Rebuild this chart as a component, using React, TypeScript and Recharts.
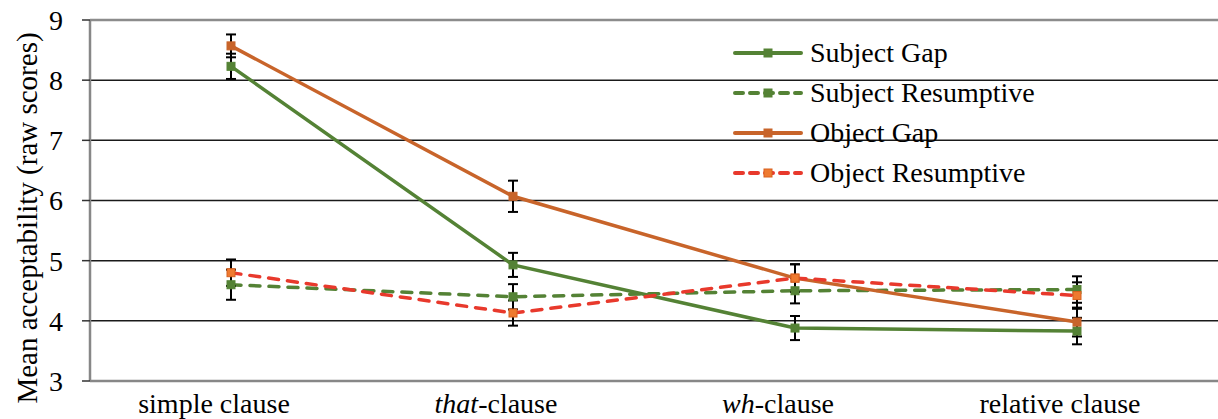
import React from 'react';
import { LineChart, Line, XAxis, YAxis, CartesianGrid, ErrorBar, Legend, ReferenceLine } from 'recharts';

const categories = ['simple clause', 'that-clause', 'wh-clause', 'relative clause'];
const subjectGap = [8.23, 4.93, 3.88, 3.83];
const subjectResumptive = [4.6, 4.4, 4.5, 4.52];
const objectGap = [8.57, 6.07, 4.71, 3.98];
const objectResumptive = [4.8, 4.13, 4.71, 4.42];
const subjectGapErr = [0.21, 0.2, 0.2, 0.22];
const subjectResumptiveErr = [0.25, 0.21, 0.21, 0.22];
const objectGapErr = [0.19, 0.26, 0.23, 0.24];
const objectResumptiveErr = [0.22, 0.21, 0.23, 0.22];
const yTicks = [3, 4, 5, 6, 7, 8, 9];
const yTitle = 'Mean acceptability (raw scores)';

const GREEN = '#548235';
const ORANGE = '#C8642A';
const RED = '#E8392C';
const FONT = "'Liberation Serif', 'DejaVu Serif', 'Times New Roman', Times, serif";

const data = categories.map((c, i) => ({
  category: c,
  sg: subjectGap[i],
  sr: subjectResumptive[i],
  og: objectGap[i],
  or: objectResumptive[i],
  sgErr: subjectGapErr[i],
  srErr: subjectResumptiveErr[i],
  ogErr: objectGapErr[i],
  orErr: objectResumptiveErr[i],
}));

const series = [
  { key: 'sg', err: 'sgErr', name: 'Subject Gap', color: GREEN, dash: undefined as string | undefined, fill: GREEN, stroke: GREEN },
  { key: 'sr', err: 'srErr', name: 'Subject Resumptive', color: GREEN, dash: '10 9', fill: GREEN, stroke: GREEN },
  { key: 'og', err: 'ogErr', name: 'Object Gap', color: ORANGE, dash: undefined as string | undefined, fill: ORANGE, stroke: ORANGE },
  { key: 'or', err: 'orErr', name: 'Object Resumptive', color: RED, dash: '10 9', fill: '#EE7A30', stroke: '#D8601E' },
];

const makeDot = (fill: string, stroke: string) => (props: any) => {
  const { cx, cy, index } = props;
  if (cx == null || cy == null) return <g key={index} />;
  return <rect key={index} x={cx - 4} y={cy - 4} width={8} height={8} fill={fill} stroke={stroke} strokeWidth={1} />;
};

const XTick = (props: any) => {
  const { x, y, payload } = props;
  const label: string = payload.value;
  const dash = label.indexOf('-');
  return (
    <text x={x - 17} y={y} dy="0.71em" textAnchor="middle" fontFamily={FONT} fontSize={28} fill="#000">
      {dash >= 0 ? (
        <>
          <tspan fontStyle="italic">{label.slice(0, dash)}</tspan>
          <tspan>{label.slice(dash)}</tspan>
        </>
      ) : (
        label
      )}
    </text>
  );
};

const YTick = (props: any) => {
  const { x, y, payload } = props;
  return (
    <text x={x} y={y} dy="0.355em" textAnchor="end" fontFamily={FONT} fontSize={28} fill="#000">
      {payload.value}
    </text>
  );
};

const YTitle = () => (
  <text
    x={27}
    y={218}
    transform="rotate(-90 27 218)"
    textAnchor="middle"
    dominantBaseline="central"
    fontFamily={FONT}
    fontSize={29}
    fill="#000"
  >
    {yTitle}
  </text>
);

const LegendContent = () => (
  <div style={{ fontFamily: FONT, fontSize: 28, color: '#000' }}>
    {series.map((s) => (
      <div key={s.key} style={{ display: 'flex', alignItems: 'center', height: 40, whiteSpace: 'nowrap' }}>
        <svg width={77} height={12} style={{ display: 'block' }}>
          <line x1={2} y1={6} x2={68} y2={6} stroke={s.color} strokeWidth={4} strokeDasharray={s.dash ? '8 7' : undefined} strokeLinecap="round" />
          <rect x={31} y={2} width={8} height={8} fill={s.fill} stroke={s.stroke} strokeWidth={1} />
        </svg>
        <span>{s.name}</span>
      </div>
    ))}
  </div>
);

export default function App() {
  return (
    <div style={{ position: 'absolute', left: 0, top: 0, background: '#fff', fontFamily: FONT }}>
      <LineChart width={1218} height={419} data={data} margin={{ top: 20, right: 0, bottom: 0, left: 0 }}>
        <CartesianGrid vertical={false} stroke="#1a1a1a" strokeWidth={1.5} />
        <XAxis
          dataKey="category"
          type="category"
          scale="point"
          padding={{ left: 141, right: 141 }}
          height={38}
          tickLine={false}
          tickSize={0}
          tickMargin={12}
          axisLine={{ stroke: '#878787', strokeWidth: 2.5 }}
          tick={<XTick />}
          interval={0}
        />
        <YAxis
          domain={[3, 9]}
          ticks={yTicks}
          type="number"
          width={90}
          tickSize={8}
          tickMargin={19}
          axisLine={{ stroke: '#878787', strokeWidth: 2.5 }}
          tickLine={{ stroke: '#333', strokeWidth: 1.5 }}
          tick={<YTick />}
          label={{ value: yTitle, content: <YTitle /> }}
        />
        <ReferenceLine y={9} stroke="#8c8c8c" strokeWidth={2.5} />
        {series.map((s) => (
          <Line
            key={s.key}
            dataKey={s.key}
            name={s.name}
            stroke={s.color}
            strokeWidth={3.5}
            strokeDasharray={s.dash}
            strokeLinecap={s.dash ? 'round' : 'butt'}
            type="linear"
            dot={makeDot(s.fill, s.stroke)}
            activeDot={false}
            isAnimationActive={false}
          >
            <ErrorBar dataKey={s.err} width={5} stroke="#000" strokeWidth={2} direction="y" />
          </Line>
        ))}
        <Legend
          layout="vertical"
          align="center"
          verticalAlign="middle"
          content={<LegendContent />}
          wrapperStyle={{ position: 'absolute', left: 733, top: 33, width: 400, height: 170 }}
        />
      </LineChart>
    </div>
  );
}
